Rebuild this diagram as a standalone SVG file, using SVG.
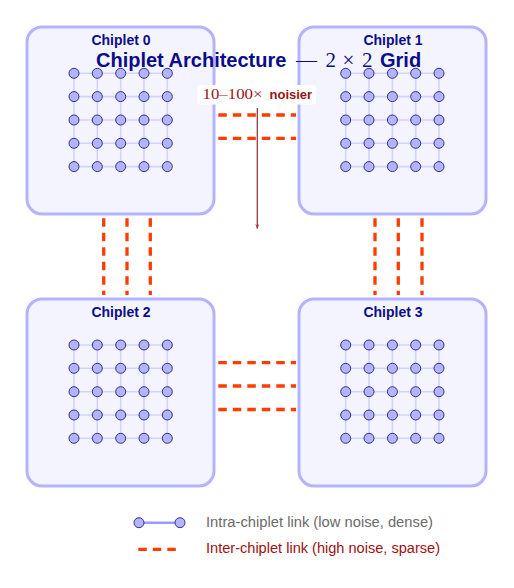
<svg xmlns="http://www.w3.org/2000/svg" xmlns:xlink="http://www.w3.org/1999/xlink" width="514" height="588" viewBox="0 0 514 588">
<style>
.box{fill:#f4f4ff;stroke:#b3b3ff;stroke-width:3}
.lbl{font-family:"Liberation Sans",Arial,sans-serif;font-weight:bold;font-size:14px;fill:#0c0c8a;text-anchor:middle}
.gl{fill:none;stroke:#d2d2ff;stroke-width:1.6}
.nd{fill:#b4b4f8;stroke:#2e2e9e;stroke-width:1}
.ic{fill:none;stroke:#ff3d00;stroke-width:3.3;stroke-dasharray:8.5 6}
.title{font-family:"Liberation Sans",Arial,sans-serif;font-weight:bold;font-size:20px;fill:#0c0c8a}
.math{font-family:"Liberation Serif","Times New Roman",serif;font-weight:normal;font-size:21px}
.leg{font-family:"Liberation Sans",Arial,sans-serif;font-size:14px}
</style>
<defs>
<g id="grid">
<path class="gl" d="M0 0H93.3M0 23.3H93.3M0 46.7H93.3M0 70H93.3M0 93.3H93.3M0 0V93.3M23.3 0V93.3M46.7 0V93.3M70 0V93.3M93.3 0V93.3"/>
<g class="nd">
<circle cx="0" cy="0" r="5"/><circle cx="23.3" cy="0" r="5"/><circle cx="46.7" cy="0" r="5"/><circle cx="70" cy="0" r="5"/><circle cx="93.3" cy="0" r="5"/>
<circle cx="0" cy="23.3" r="5"/><circle cx="23.3" cy="23.3" r="5"/><circle cx="46.7" cy="23.3" r="5"/><circle cx="70" cy="23.3" r="5"/><circle cx="93.3" cy="23.3" r="5"/>
<circle cx="0" cy="46.7" r="5"/><circle cx="23.3" cy="46.7" r="5"/><circle cx="46.7" cy="46.7" r="5"/><circle cx="70" cy="46.7" r="5"/><circle cx="93.3" cy="46.7" r="5"/>
<circle cx="0" cy="70" r="5"/><circle cx="23.3" cy="70" r="5"/><circle cx="46.7" cy="70" r="5"/><circle cx="70" cy="70" r="5"/><circle cx="93.3" cy="70" r="5"/>
<circle cx="0" cy="93.3" r="5"/><circle cx="23.3" cy="93.3" r="5"/><circle cx="46.7" cy="93.3" r="5"/><circle cx="70" cy="93.3" r="5"/><circle cx="93.3" cy="93.3" r="5"/>
</g>
</g>
<marker id="arr" viewBox="0 0 10 10" refX="9" refY="5" markerWidth="5" markerHeight="5" orient="auto" markerUnits="userSpaceOnUse">
<path d="M0 1L10 5L0 9L3 5Z" fill="#9c3a3a"/>
</marker>
</defs>
<rect width="514" height="588" fill="#ffffff"/>
<g id="chiplet0">
<rect class="box" x="27" y="27" width="187" height="187" rx="15"/>
<text class="lbl" x="121" y="45">Chiplet 0</text>
<use xlink:href="#grid" x="74" y="73.3"/>
</g>
<g id="chiplet1">
<rect class="box" x="299" y="27" width="187" height="187" rx="15"/>
<text class="lbl" x="393" y="45">Chiplet 1</text>
<use xlink:href="#grid" x="345.7" y="73.3"/>
</g>
<g id="chiplet2">
<rect class="box" x="27" y="299" width="187" height="187" rx="15"/>
<text class="lbl" x="121" y="317">Chiplet 2</text>
<use xlink:href="#grid" x="74" y="345"/>
</g>
<g id="chiplet3">
<rect class="box" x="299" y="299" width="187" height="187" rx="15"/>
<text class="lbl" x="393" y="317">Chiplet 3</text>
<use xlink:href="#grid" x="345.7" y="345"/>
</g>
<g id="connectors">
<path class="ic" d="M218.3 115H296M218.3 138.3H296"/>
<path class="ic" d="M218.3 362.7H296M218.3 386H296M218.3 409.5H296"/>
<path class="ic" d="M103.7 218.3V295M127 218.3V295M150.3 218.3V295"/>
<path class="ic" d="M375 218.3V295M398.3 218.3V295M422 218.3V295"/>
</g>
<g id="title">
<text class="title" y="66.5"><tspan x="96">Chiplet Architecture</tspan><tspan class="math" x="296" textLength="21.5">—</tspan><tspan class="math" x="325.5">2</tspan><tspan class="math" x="342.5">×</tspan><tspan class="math" x="362">2</tspan><tspan x="380">Grid</tspan></text>
</g>
<g id="noise-note">
<rect x="197.5" y="85" width="118.5" height="19.5" rx="3" fill="#ffffff"/>
<text y="98.5" fill="#9a1414"><tspan x="202.5" font-family="Liberation Serif,'Times New Roman',serif" font-size="15" textLength="60" lengthAdjust="spacingAndGlyphs">10–100×</tspan><tspan x="269.5" font-family="Liberation Sans,Arial,sans-serif" font-weight="bold" font-size="13">noisier</tspan></text>
<line x1="257.3" y1="108" x2="257.3" y2="228.5" stroke="#9c3a3a" stroke-width="1.3" marker-end="url(#arr)"/>
</g>
<g id="legend">
<line x1="139" y1="522.7" x2="180" y2="522.7" stroke="#9b9bff" stroke-width="2.5"/>
<circle class="nd" cx="139" cy="522.7" r="5"/>
<circle class="nd" cx="180" cy="522.7" r="5"/>
<text class="leg" x="206" y="527" fill="#6a6a6a" textLength="227" lengthAdjust="spacingAndGlyphs">Intra-chiplet link (low noise, dense)</text>
<path class="ic" d="M138.3 549.3H177"/>
<text class="leg" x="206" y="553" fill="#a01010" textLength="234" lengthAdjust="spacingAndGlyphs">Inter-chiplet link (high noise, sparse)</text>
</g>
</svg>
